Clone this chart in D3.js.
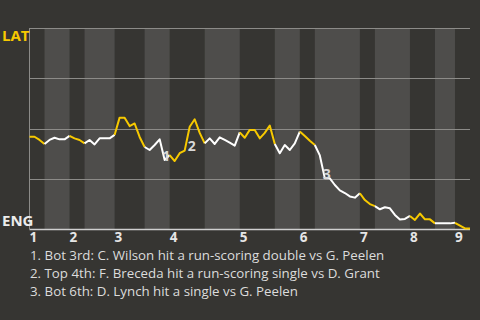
<!DOCTYPE html>
<html>
<head>
<meta charset="utf-8">
<script src="https://cdn.jsdelivr.net/npm/d3@7"></script>
<style>
  body { margin: 0; background: #363532; }
  svg { display: block; font-family: "Open Sans", "Noto Sans", sans-serif; }
</style>
</head>
<body>
<div id="chart"></div>
<script>
// win probability for LAT (%), one value per plate appearance
var winProb = [
  45.9, 45.9, 44.3, 42.3, 44.3, 45.4, 44.6, 44.6, 46.3, 45.1,
  44.3, 42.6, 44.3, 42.1, 45.1, 45.1, 45.1, 46.8, 55.4, 55.4,
  51.2, 52.5, 45.8, 40.8, 39.3, 41.8, 44.6, 34.3, 36.8, 33.8,
  37.7, 39.0, 50.9, 54.6, 47.8, 42.6, 45.1, 42.3, 45.6, 44.3,
  43.0, 41.5, 48.1, 45.4, 49.3, 49.3, 45.1, 47.8, 51.5, 42.3,
  37.7, 41.8, 39.3, 42.6, 48.5, 46.3, 43.9, 41.8, 36.6, 25.2,
  25.2, 21.9, 19.2, 17.9, 16.2, 15.6, 17.8, 14.4, 12.4, 11.4,
  9.8, 10.8, 10.3, 7.0, 4.7, 5.0, 6.5, 4.5, 7.7, 4.8,
  4.8, 2.8, 2.8, 2.8, 2.8, 3.1, 1.7, 0.3, 0.2
];

// number of plate appearances in each half inning (top 1st, bot 1st, ...)
var halfLengths = [3, 5, 3, 6, 6, 5, 7, 7, 7, 5, 3, 9, 3, 7, 5, 4, 3];

var inningLabels = ['1', '2', '3', '4', '5', '6', '7', '8', '9'];

var teamTop = 'LAT';
var teamBottom = 'ENG';

// key plays: position (plate appearance index, win prob) and text
var noteIndex = [27.3, 32.4, 59.4];
var noteProb = [36.3, 41.3, 27.4];
var noteText = [
  '1. Bot 3rd: C. Wilson hit a run-scoring double vs G. Peelen',
  '2. Top 4th: F. Breceda hit a run-scoring single vs D. Grant',
  '3. Bot 6th: D. Lynch hit a single vs G. Peelen'
];

var svgWidth = 480;
var svgHeight = 320;
var margin = { top: 28, right: 10, bottom: 91, left: 29.5 };
var width = svgWidth - margin.left - margin.right;
var height = svgHeight - margin.top - margin.bottom;

var svg = d3.select('#chart').append('svg')
  .attr('width', svgWidth)
  .attr('height', svgHeight);

svg.append('rect')
  .attr('width', svgWidth)
  .attr('height', svgHeight)
  .attr('fill', '#363532');

var g = svg.append('g')
  .attr('transform', `translate(${margin.left}, ${margin.top})`);

var total = d3.sum(halfLengths);
var x = d3.scaleLinear().domain([0, total]).range([0, width]);
var y = d3.scaleLinear().domain([0, 100]).range([height, 0]);

// half inning boundaries
var starts = [0];
halfLengths.forEach(function(n, i) { starts.push(starts[i] + n); });
var halves = halfLengths.map(function(n, i) {
  return { start: starts[i], end: starts[i + 1], top: i % 2 === 0 };
});

// bottom halves are shaded lighter
g.selectAll('.band')
  .data(halves.filter(d => !d.top))
  .enter()
  .append('rect')
  .attr('x', d => x(d.start))
  .attr('width', d => x(d.end) - x(d.start))
  .attr('y', 0)
  .attr('height', height)
  .attr('fill', '#4e4d4b');

// grid lines
g.selectAll('.grid')
  .data([25, 50, 75, 100])
  .enter()
  .append('line')
  .attr('x1', 0)
  .attr('x2', width)
  .attr('y1', d => Math.round(y(d)) + 0.5)
  .attr('y2', d => Math.round(y(d)) + 0.5)
  .attr('stroke', '#8c8b88')
  .attr('stroke-width', 1);

g.append('line')
  .attr('x1', 0).attr('x2', 0)
  .attr('y1', 0).attr('y2', height)
  .attr('stroke', '#8c8b88');

g.append('line')
  .attr('x1', 0).attr('x2', width)
  .attr('y1', height + 0.5).attr('y2', height + 0.5)
  .attr('stroke', '#cfcfcf')
  .attr('stroke-width', 1.5);

// win probability line, colored by half inning
var line = d3.line()
  .x(d => x(d.i))
  .y(d => y(d.p));

halves.forEach(function(h) {
  var pts = [];
  for (var i = h.start; i <= h.end; i++) pts.push({ i: i, p: winProb[i] });
  g.append('path')
    .datum(pts)
    .attr('d', line)
    .attr('fill', 'none')
    .attr('stroke', h.top ? '#f7c900' : '#ffffff')
    .attr('stroke-width', 2)
    .attr('stroke-linejoin', 'round');
});

// note markers
g.selectAll('.note')
  .data(noteIndex)
  .enter()
  .append('text')
  .attr('x', d => x(d))
  .attr('y', (d, i) => y(noteProb[i]) + 5)
  .attr('text-anchor', 'middle')
  .attr('font-size', '14px')
  .attr('font-weight', 'bold')
  .attr('fill', '#d8d8d8')
  .text((d, i) => i + 1);

// inning labels at the start of each top half
g.selectAll('.inning')
  .data(inningLabels)
  .enter()
  .append('text')
  .attr('x', (d, i) => x(starts[i * 2]))
  .attr('y', height + 13)
  .attr('font-size', '13.5px')
  .attr('font-weight', 'bold')
  .attr('fill', '#e6e6e6')
  .text(d => d);

// team labels
svg.append('text')
  .attr('x', 2)
  .attr('y', 41)
  .attr('font-size', '15px')
  .attr('font-weight', 'bold')
  .attr('fill', '#f7c900')
  .text(teamTop);

svg.append('text')
  .attr('x', 2)
  .attr('y', 226)
  .attr('font-size', '15px')
  .attr('font-weight', 'bold')
  .attr('fill', '#ececec')
  .text(teamBottom);

// notes below the chart
svg.selectAll('.legend')
  .data(noteText)
  .enter()
  .append('text')
  .attr('x', 30)
  .attr('y', (d, i) => 259.5 + i * 18)
  .attr('font-size', '13.3px')
  .attr('fill', '#dcdcdc')
  .text(d => d);
</script>
</body>
</html>
